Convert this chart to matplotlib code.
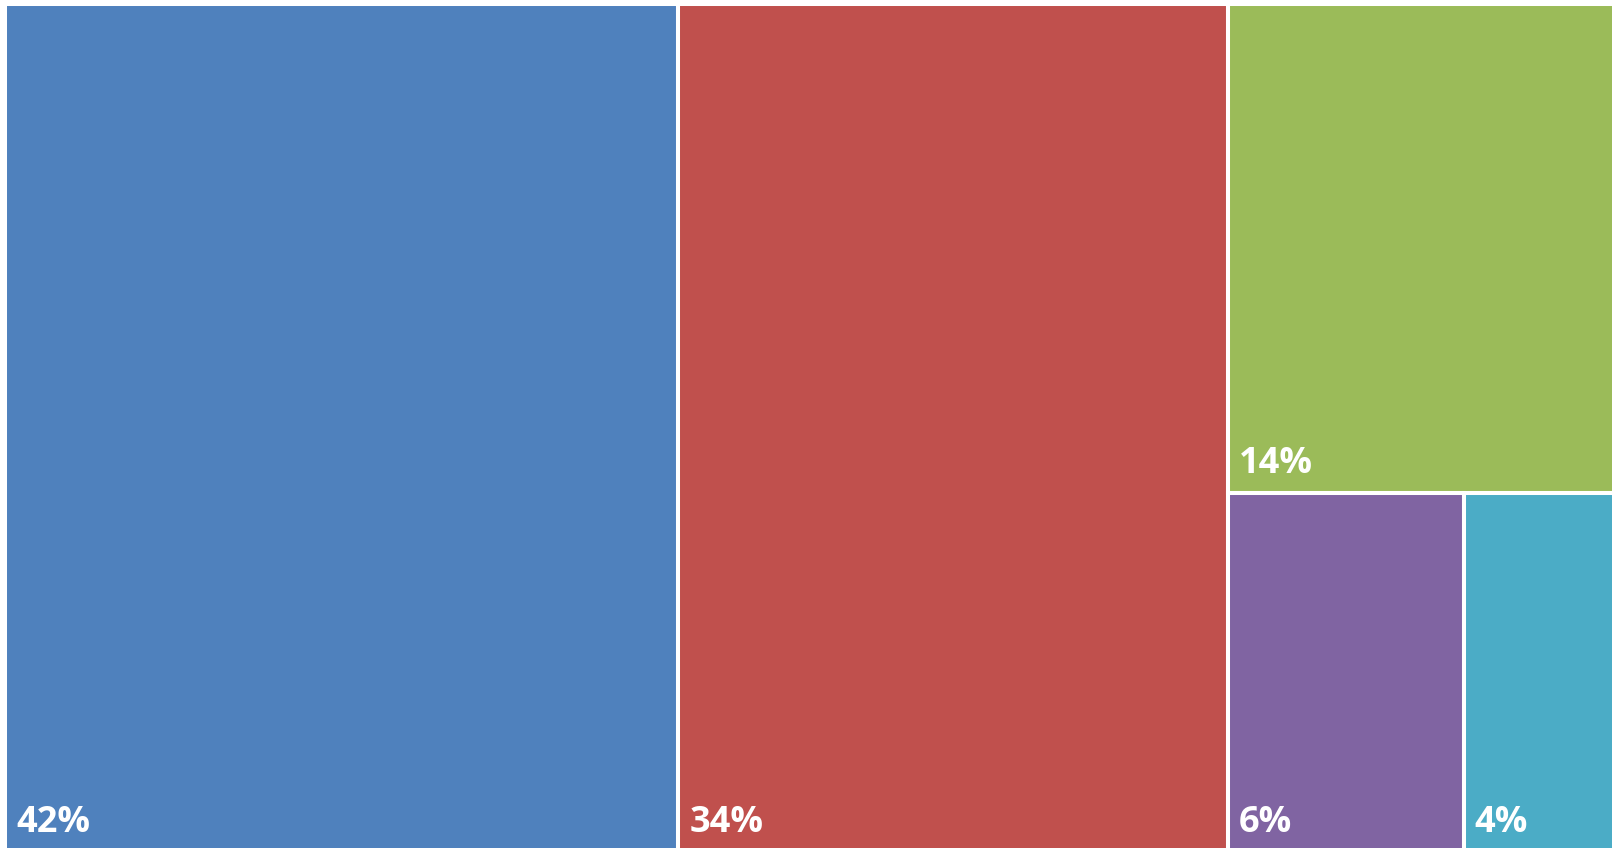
import matplotlib
matplotlib.use("Agg")
import matplotlib.pyplot as plt
from matplotlib.patches import Rectangle

labels = ["42%", "34%", "14%", "6%", "4%"]
values = [41.8, 34.1, 13.9, 6.2, 4.0]
colors = ["#4F81BD", "#C0504D", "#9BBB59", "#8064A2", "#4BACC6"]

W, H = 1612, 848
fig = plt.figure(figsize=(W / 100, H / 100), dpi=100)
ax = fig.add_axes([0, 0, 1, 1])
ax.set_xlim(0, W)
ax.set_ylim(H, 0)
ax.axis("off")

# treemap area (extends slightly past the canvas at right/bottom, as in the reference)
x0, y0, x1, y1 = 5, 4, 1616, 852
TW, TH = x1 - x0, y1 - y0
total = sum(values)

rects = []
x = x0
for v in values[:2]:
    w = TW * v / total
    rects.append((x, y0, w, TH))
    x += w
rest = values[2:]
rest_sum = sum(rest)
cw = TW * rest_sum / total
h_top = TH * rest[0] / rest_sum
rects.append((x, y0, cw, h_top))
bottom_sum = sum(rest[1:])
bx = x
for v in rest[1:]:
    w = cw * v / bottom_sum
    rects.append((bx, y0 + h_top, w, TH - h_top))
    bx += w

for (rx, ry, rw, rh), c, lab in zip(rects, colors, labels):
    ax.add_patch(Rectangle((rx, ry), rw, rh, facecolor=c, edgecolor="white",
                           linewidth=2.9, joinstyle="miter"))
    ax.text(rx + 11, min(ry + rh - 20, 832), lab, color="white", fontsize=26,
            fontweight="bold", family=["Open Sans", "DejaVu Sans"],
            ha="left", va="baseline")

fig.savefig("out.png", dpi=100, facecolor="white")
